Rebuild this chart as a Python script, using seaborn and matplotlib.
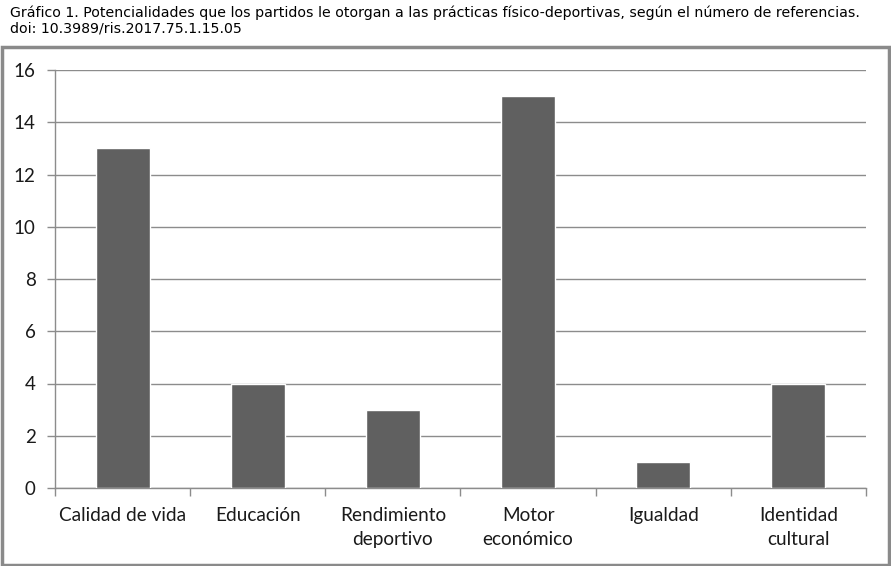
import matplotlib
matplotlib.use("Agg")
import matplotlib.pyplot as plt
import seaborn as sns
import pandas as pd
from matplotlib.patches import Rectangle

categorias = ["Calidad de vida", "Educación", "Rendimiento\ndeportivo",
              "Motor\neconómico", "Igualdad", "Identidad\ncultural"]
referencias = [13, 4, 3, 15, 1, 4]
ticks_y = [0, 2, 4, 6, 8, 10, 12, 14, 16]

titulo = ("Gráfico 1. Potencialidades que los partidos le otorgan a las prácticas "
          "físico-deportivas, según el número de referencias.\n"
          "doi: 10.3989/ris.2017.75.1.15.05")

df = pd.DataFrame({"categoria": categorias, "n": referencias})

sns.set_style("white")
plt.rcParams["font.family"] = ["Lato", "DejaVu Sans"]

fig = plt.figure(figsize=(8.91, 5.66), dpi=100)
W, H = 891, 566
ax = fig.add_axes([55 / W, 1 - 488 / H, (866 - 55) / W, (488 - 70) / H])

sns.barplot(data=df, x="categoria", y="n", color="#606060", width=0.4,
            saturation=1, ax=ax, zorder=3)

ax.set_ylim(0, 16)
ax.set_xlim(-0.5, len(categorias) - 0.5)
ax.set_yticks(ticks_y)
ax.yaxis.grid(True, color="#8c8c8c", linewidth=1, zorder=0)
ax.set_axisbelow(True)
ax.set_xlabel("")
ax.set_ylabel("")

for side in ["top", "right"]:
    ax.spines[side].set_visible(False)
for side in ["left", "bottom"]:
    ax.spines[side].set_color("#8c8c8c")
    ax.spines[side].set_linewidth(1)

# x ticks at category boundaries, labels centered
ax.set_xticks([i - 0.5 for i in range(len(categorias) + 1)], minor=False)
ax.set_xticklabels([])
ax.set_xticks(range(len(categorias)), minor=True)
ax.set_xticklabels(categorias, minor=True, fontsize=13.7, color="#1a1a1a",
                   linespacing=1.45, va="top")
ax.tick_params(axis="x", which="major", length=6, color="#8c8c8c", width=1,
               direction="out", bottom=True)
ax.tick_params(axis="x", which="minor", length=0, pad=14)
ax.tick_params(axis="y", length=6, color="#8c8c8c", width=1, direction="out",
               labelsize=13.5, labelcolor="#1a1a1a", pad=8, left=True)

fig.text(10 / W, 1 - 6 / H, titulo, fontsize=10.2, va="top", ha="left",
         family=["DejaVu Sans"], linespacing=1.05, color="#000000")

fig.patches.append(Rectangle((1.5 / W, 1.5 / H), (W - 4) / W, (518) / H,
                             transform=fig.transFigure, fill=False,
                             edgecolor="#8a8a8a", linewidth=2.5))

fig.savefig("out.png", dpi=100)
